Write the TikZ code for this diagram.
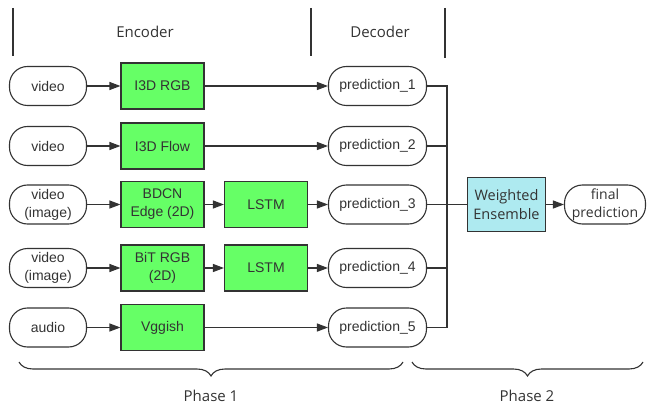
\documentclass[tikz,border=0pt]{standalone}
\usepackage{fontspec}
\setmainfont{Liberation Sans}
\newfontfamily\headfont{Open Sans}
\usetikzlibrary{arrows.meta,decorations.pathreplacing,calc}
\definecolor{ink}{HTML}{333333}
\definecolor{boxgreen}{HTML}{66FF66}
\definecolor{boxcyan}{HTML}{AEEAF0}
\tikzset{
  every node/.style={text=ink},
  conn/.style={draw=ink, line width=1.1pt},
  arr/.style={conn, -{Triangle[length=11pt,width=8pt]}},
  inp/.style={draw=ink, line width=1.1pt, rounded corners=18pt, minimum width=77pt, minimum height=39pt, inner sep=0pt, align=center, font=\fontsize{14}{18}\selectfont},
  pred/.style={inp, minimum width=98pt},
  gbox/.style={draw=ink, line width=1.1pt, fill=boxgreen, minimum width=83pt, minimum height=46pt, inner sep=0pt, align=center, font=\fontsize{14}{18}\selectfont},
  ebox/.style={draw=ink, line width=1.1pt, fill=boxcyan, minimum width=78pt, minimum height=54pt, inner sep=0pt, align=center, font=\headfont\fontsize{14.5}{19}\selectfont},
  fbox/.style={inp, minimum width=81pt, font=\headfont\fontsize{14}{18}\selectfont},
  head/.style={font=\headfont\fontsize{15}{18}\selectfont},
  brc/.style={conn, decorate, decoration={brace, mirror, amplitude=14pt}}
}
\begin{document}
\begin{tikzpicture}[x=1pt,y=-1pt]
\useasboundingbox (0,0) rectangle (647,406);
% header lines
\coordinate (l1t) at (13,8); \coordinate (l1b) at (13,56);
\coordinate (l2t) at (311,8); \coordinate (l2b) at (311,56);
\coordinate (l3t) at (445,8); \coordinate (l3b) at (445,58);
\draw[conn] (l1t) -- (l1b);
\draw[conn] (l2t) -- (l2b);
\draw[conn] (l3t) -- (l3b);
\node[head] (enc) at (145,32) {Encoder};
\node[head] (dec) at (380,32) {Decoder};
% row 1
\node[inp] (i1) at (48,86) {video};
\node[gbox] (g1) at (162.5,86) {I3D RGB};
\node[pred] (p1) at (377.5,86) {prediction\_1};
% row 2
\node[inp] (i2) at (48,146) {video};
\node[gbox] (g2) at (162.5,146) {I3D Flow};
\node[pred] (p2) at (377.5,146) {prediction\_2};
% row 3
\node[inp] (i3) at (48,204.5) {video\\(image)};
\node[gbox] (g3) at (162.5,204.5) {BDCN\\Edge (2D)};
\node[gbox] (l3) at (266,204.5) {LSTM};
\node[pred] (p3) at (377.5,204.5) {prediction\_3};
% row 4
\node[inp] (i4) at (48,268) {video\\(image)};
\node[gbox] (g4) at (162.5,268) {BiT RGB\\(2D)};
\node[gbox] (l4) at (266,268) {LSTM};
\node[pred] (p4) at (377.5,268) {prediction\_4};
% row 5
\node[inp] (i5) at (48,327.5) {audio};
\node[gbox] (g5) at (162.5,327.5) {Vggish};
\node[pred] (p5) at (377.5,327.5) {prediction\_5};
% ensemble
\node[ebox] (we) at (506.5,204.5) {Weighted\\Ensemble};
\node[fbox] (fp) at (605,204.5) {final\\prediction};
% arrows
\draw[arr] (i1) -- (g1); \draw[arr] (g1) -- (p1);
\draw[arr] (i2) -- (g2); \draw[arr] (g2) -- (p2);
\draw[arr] (i3) -- (g3); \draw[arr] (g3) -- (l3); \draw[arr] (l3) -- (p3);
\draw[arr] (i4) -- (g4); \draw[arr] (g4) -- (l4); \draw[arr] (l4) -- (p4);
\draw[arr] (i5) -- (g5); \draw[arr] (g5) -- (p5);
% bus
\coordinate (bus) at (447,204.5);
\draw[conn] (p1.east) -- (p1.east -| bus) -- (p5.east -| bus) -- (p5.east);
\draw[conn] (p2.east) -- (p2.east -| bus);
\draw[conn] (p3.east) -- (bus);
\draw[conn] (p4.east) -- (p4.east -| bus);
\draw[conn] (bus) -- (we.west);
\draw[arr] (we) -- (fp);
% braces
\coordinate (b1a) at (19,362); \coordinate (b1b) at (403,362);
\coordinate (b2a) at (412,362); \coordinate (b2b) at (643,362);
\draw[brc] (b1a) -- (b1b);
\draw[brc] (b2a) -- (b2b);
\node[head] (ph1) at (211,396) {Phase 1};
\node[head] (ph2) at (527,396) {Phase 2};
\end{tikzpicture}
\end{document}
